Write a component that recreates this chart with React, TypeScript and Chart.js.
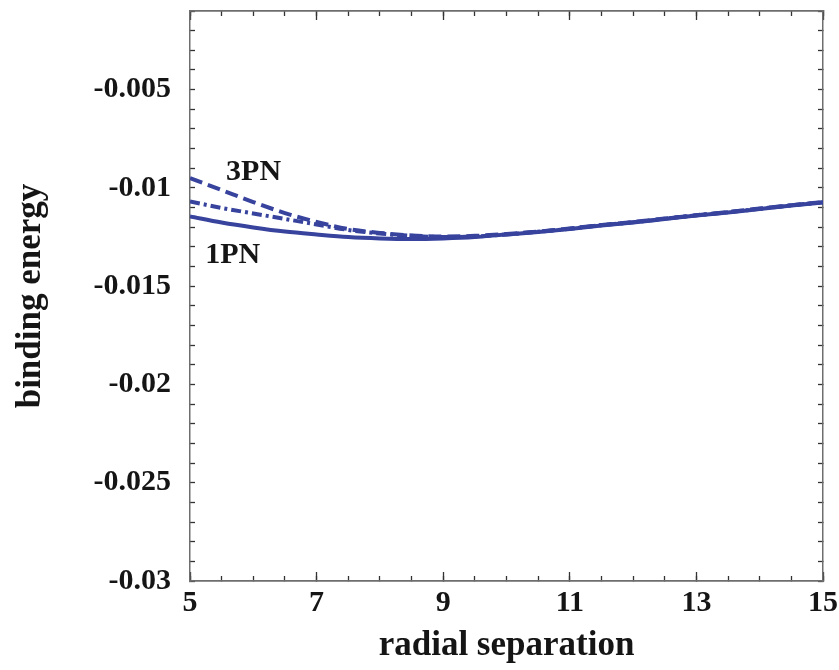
import React, { useEffect, useRef } from 'react';
import { Chart, registerables } from 'chart.js';

Chart.register(...registerables);

const radius = [5, 5.5, 6, 6.5, 7, 7.5, 8, 8.5, 9, 9.5, 10, 10.5, 11, 11.5, 12, 12.5, 13, 13.5, 14, 14.5, 15];
const energy1PN = [-0.01145, -0.01176, -0.01201, -0.01222, -0.01237, -0.0125, -0.01257, -0.0126, -0.01257, -0.0125, -0.01237, -0.01224, -0.01209, -0.01191, -0.01176, -0.01158, -0.0114, -0.01125, -0.01107, -0.0109, -0.01074];
const energy2PN = [-0.01069, -0.01102, -0.0113, -0.01158, -0.01186, -0.01214, -0.01232, -0.01244, -0.0125, -0.01247, -0.01237, -0.01223, -0.01208, -0.0119, -0.01175, -0.01157, -0.01139, -0.01124, -0.01106, -0.01089, -0.01073];
const energy3PN = [-0.0095, -0.01011, -0.01072, -0.01128, -0.01173, -0.01209, -0.01229, -0.01242, -0.01247, -0.01244, -0.01234, -0.01222, -0.01206, -0.01189, -0.01173, -0.01156, -0.01139, -0.01123, -0.01105, -0.01088, -0.01072];

const xMin = 5;
const xMax = 15;
const xMajorStep = 2;
const xMinorStep = 0.5;
const yMin = -0.03;
const yMax = -0.001;
const yMinorStep = 0.001;
const yLabelStep = 0.005;

const labelTexts = ['3PN', '1PN'];
const labelX = [5.57, 5.24];
const labelY = [-0.00922, -0.01344];

const FONT = "'Liberation Serif', 'Times New Roman', 'DejaVu Serif', serif";
const LINE_COLOR = '#37439d';
const AXIS_COLOR = '#6e6e6e';
const TICK_COLOR = '#333333';
const TEXT_COLOR = '#151515';

const textLabelsPlugin = {
  id: 'textLabels',
  afterDatasetsDraw(chart: any) {
    const { ctx, scales } = chart;
    ctx.save();
    ctx.font = `bold 30px ${FONT}`;
    ctx.fillStyle = TEXT_COLOR;
    ctx.textAlign = 'left';
    ctx.textBaseline = 'middle';
    labelTexts.forEach((t, i) => {
      ctx.fillText(t, scales.x.getPixelForValue(labelX[i]), scales.y.getPixelForValue(labelY[i]));
    });
    ctx.restore();
  },
};

function zeroSize(scale: any) {
  if (scale.isHorizontal()) scale.height = 0;
  else scale.width = 0;
  scale.paddingTop = 0;
  scale.paddingBottom = 0;
  scale.paddingLeft = 0;
  scale.paddingRight = 0;
}

function tickAxis(position: string, min: number, max: number, step: number, len: number, weight: number) {
  return {
    type: 'linear',
    position,
    min,
    max,
    weight,
    ticks: { display: false, stepSize: step, autoSkip: false },
    grid: {
      drawOnChartArea: false,
      drawTicks: true,
      tickLength: -len,
      tickColor: TICK_COLOR,
      tickWidth: 1.3,
    },
    border: { display: true, color: AXIS_COLOR, width: 1.5 },
    afterFit: zeroSize,
  };
}

export default function App() {
  const canvasRef = useRef<HTMLCanvasElement>(null);

  useEffect(() => {
    if (!canvasRef.current) return;
    const toPoints = (ys: number[]) => radius.map((r, i) => ({ x: r, y: ys[i] }));
    const chart = new Chart(canvasRef.current, {
      type: 'line',
      data: {
        datasets: [
          {
            label: '3PN',
            data: toPoints(energy3PN),
            borderColor: LINE_COLOR,
            borderWidth: 4,
            borderDash: [13, 6],
            pointRadius: 0,
            cubicInterpolationMode: 'monotone',
            xAxisID: 'x',
            yAxisID: 'y',
          },
          {
            label: '2PN',
            data: toPoints(energy2PN),
            borderColor: LINE_COLOR,
            borderWidth: 4,
            borderDash: [10, 4, 3, 4],
            pointRadius: 0,
            cubicInterpolationMode: 'monotone',
            xAxisID: 'x',
            yAxisID: 'y',
          },
          {
            label: '1PN',
            data: toPoints(energy1PN),
            borderColor: LINE_COLOR,
            borderWidth: 4,
            pointRadius: 0,
            cubicInterpolationMode: 'monotone',
            xAxisID: 'x',
            yAxisID: 'y',
          },
        ],
      },
      options: {
        responsive: false,
        animation: false,
        devicePixelRatio: 1,
        layout: { padding: { top: 11, right: 16, bottom: 0, left: 0 } },
        plugins: { legend: { display: false }, tooltip: { enabled: false } },
        scales: {
          x: {
            type: 'linear',
            position: 'bottom',
            min: xMin,
            max: xMax,
            weight: 0,
            ticks: {
              stepSize: xMajorStep,
              autoSkip: false,
              maxRotation: 0,
              padding: 13,
              color: TEXT_COLOR,
              font: { family: FONT, size: 30, weight: 'bold' },
            },
            grid: {
              drawOnChartArea: false,
              tickLength: -9,
              tickColor: TICK_COLOR,
              tickWidth: 1.3,
            },
            border: { display: true, color: AXIS_COLOR, width: 1.5 },
            title: {
              display: true,
              text: 'radial separation',
              color: TEXT_COLOR,
              font: { family: FONT, size: 35, weight: 'bold' },
              padding: 3,
            },
            afterFit: (s: any) => {
              s.height = 89;
              s.paddingLeft = 0;
              s.paddingRight = 0;
            },
          },
          xMinor: tickAxis('bottom', xMin, xMax, xMinorStep, 5, -1),
          xTop: tickAxis('top', xMin, xMax, xMajorStep, 9, -1),
          xTopMinor: tickAxis('top', xMin, xMax, xMinorStep, 5, -2),
          y: {
            type: 'linear',
            position: 'left',
            min: yMin,
            max: yMax,
            weight: 0,
            ticks: {
              stepSize: yMinorStep,
              autoSkip: false,
              padding: 24,
              color: TEXT_COLOR,
              font: { family: FONT, size: 30, weight: 'bold' },
              callback: (v: any) => {
                const q = v / yLabelStep;
                if (Math.abs(q - Math.round(q)) > 1e-6) return '';
                return String(Number(Number(v).toFixed(4)));
              },
            },
            grid: {
              drawOnChartArea: false,
              tickLength: -5,
              tickColor: TICK_COLOR,
              tickWidth: 1.3,
            },
            border: { display: true, color: AXIS_COLOR, width: 1.5 },
            title: {
              display: true,
              text: 'binding energy',
              color: TEXT_COLOR,
              font: { family: FONT, size: 35, weight: 'bold' },
              padding: 10,
            },
            afterFit: (s: any) => {
              s.width = 190;
              s.paddingTop = 0;
              s.paddingBottom = 0;
            },
          },
          yRight: tickAxis('right', yMin, yMax, yMinorStep, 5, -1),
        },
      } as any,
      plugins: [textLabelsPlugin],
    });
    return () => chart.destroy();
  }, []);

  return (
    <div style={{ position: 'absolute', left: 0, top: 0, width: 839, height: 670 }}>
      <canvas ref={canvasRef} width={839} height={670} style={{ display: 'block' }} />
    </div>
  );
}
